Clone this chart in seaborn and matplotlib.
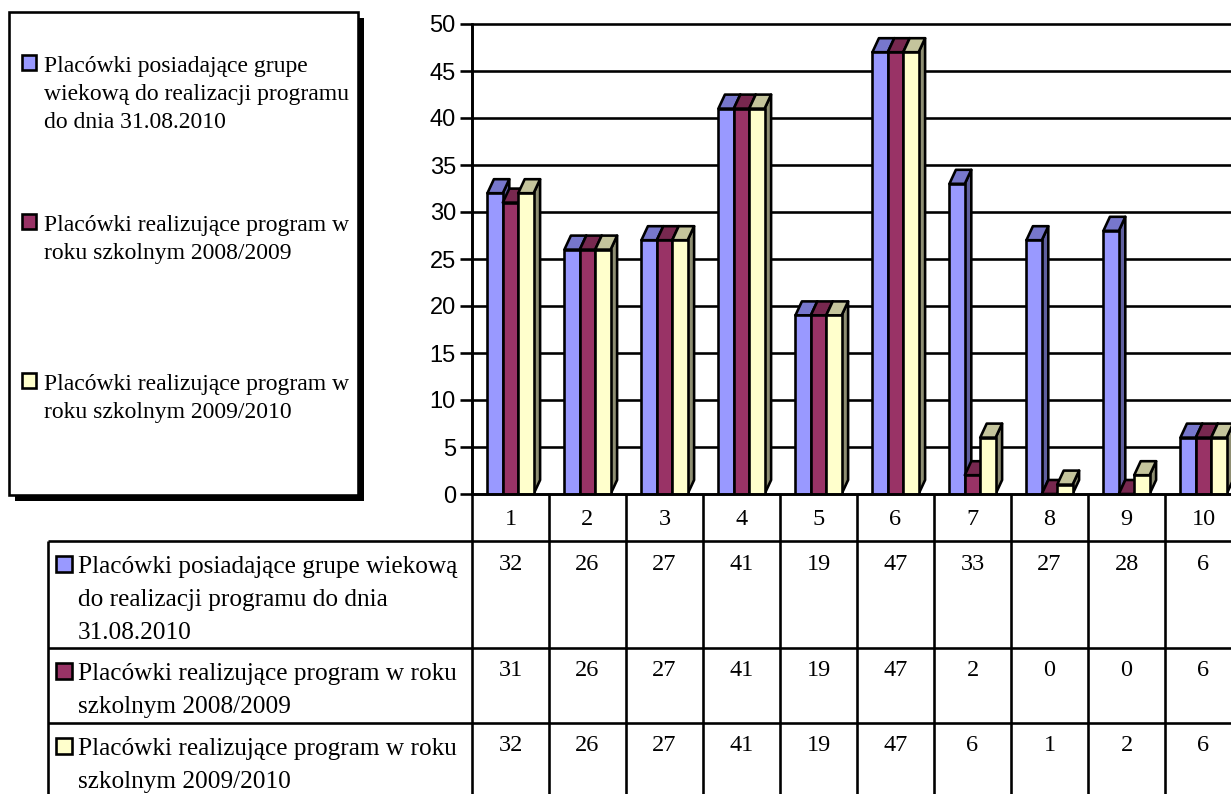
import matplotlib
matplotlib.use('Agg')
import matplotlib.pyplot as plt
from matplotlib.patches import Rectangle
import pandas as pd
import seaborn as sns

# ------------ data ------------
categories = ['1', '2', '3', '4', '5', '6', '7', '8', '9', '10']
series_1 = [32, 26, 27, 41, 19, 47, 33, 27, 28, 6]
series_2 = [31, 26, 27, 41, 19, 47, 2, 0, 0, 6]
series_3 = [32, 26, 27, 41, 19, 47, 6, 1, 2, 6]
series_names = ['s1', 's2', 's3']
y_ticks = list(range(0, 55, 5))

legend_lines = [
    ['Placówki posiadające grupe', 'wiekową do realizacji programu', 'do dnia 31.08.2010'],
    ['Placówki realizujące program w', 'roku szkolnym 2008/2009'],
    ['Placówki realizujące program w', 'roku szkolnym 2009/2010'],
]
table_lines = [
    ['Placówki posiadające grupe wiekową', 'do realizacji programu do dnia', '31.08.2010'],
    ['Placówki realizujące program w roku', 'szkolnym 2008/2009'],
    ['Placówki realizujące program w roku', 'szkolnym 2009/2010'],
]

front_colors = ['#9999FF', '#993366', '#FFFFCC']
top_colors = ['#7777CC', '#77284F', '#C4C49C']
side_colors = ['#5F5F9F', '#5F2040', '#8E8E72']

W, H = 1231, 794
PX = 72 / 100  # one pixel in points
LW = 2.6 * PX
SERIF = 'Liberation Serif'

sns.set_style('white')
fig = plt.figure(figsize=(W / 100, H / 100), dpi=100, facecolor='white')

# plot area runs past the right edge of the picture, like in the original
left, right, top, bottom = 472, 1242, 24, 494
ax = fig.add_axes([left / W, 1 - bottom / H, (right - left) / W, (bottom - top) / H])

df = pd.DataFrame({
    'cat': categories * 3,
    'value': series_1 + series_2 + series_3,
    'series': [n for n in series_names for _ in categories],
})
sns.barplot(data=df, x='cat', y='value', hue='series', hue_order=series_names,
            palette=front_colors, width=0.6, gap=0, dodge=True, saturation=1,
            edgecolor='black', linewidth=LW, legend=False, ax=ax)

ax.set_xlim(-0.5, 9.5)
ax.set_ylim(0, 50)
ax.set_yticks(y_ticks)
ax.set_xticks([])
ax.set_xlabel('')
ax.set_ylabel('')
ax.set_axisbelow(True)
ax.grid(axis='y', color='black', linewidth=LW, zorder=1, clip_on=False)
ax.tick_params(axis='y', length=12 * PX, width=LW, color='black', left=True, pad=3)
for lab in ax.get_yticklabels():
    lab.set_fontfamily('Liberation Sans')
    lab.set_fontsize(17)
    lab.set_color('black')
for name, sp in ax.spines.items():
    sp.set_visible(name == 'left')
sp = ax.spines['left']
sp.set_linewidth(LW)
sp.set_color('black')

# fake 3D: top and side faces built from the bars seaborn made
dx = 6.5 / 77
dy = 14 / 9.4
for i, cont in enumerate(ax.containers):
    for bar in cont:
        x0, w, h = bar.get_x(), bar.get_width(), bar.get_height()
        x1 = x0 + w
        z = 3 + i
        ax.fill([x1, x1 + dx, x1 + dx, x1], [0, dy, h + dy, h], fc=side_colors[i],
                ec='black', lw=LW, zorder=z, joinstyle='round', clip_on=False)
        ax.fill([x0, x0 + dx, x1 + dx, x1], [h, h + dy, h + dy, h], fc=top_colors[i],
                ec='black', lw=LW, zorder=z, joinstyle='round', clip_on=False)
        bar.set_zorder(z + 0.5)

# overlay in picture pixels for legend box and data table
ov = fig.add_axes([0, 0, 1, 1], facecolor='none')
ov.set_xlim(0, W)
ov.set_ylim(H, 0)
ov.axis('off')

# legend box
ov.add_patch(Rectangle((15, 18), 349, 483, fc='black', ec='none'))
ov.add_patch(Rectangle((9, 12), 349, 483, fc='white', ec='black', lw=LW))
legend_baselines = [72, 231, 390]
for i, lines in enumerate(legend_lines):
    base = legend_baselines[i]
    ov.add_patch(Rectangle((22, base - 17), 14, 15, fc=front_colors[i], ec='black', lw=LW))
    for j, line in enumerate(lines):
        ov.text(44, base + j * 28.2, line, family=SERIF, fontsize=17, va='baseline', color='black')

# table grid
step = (right - left) / len(categories)
row_lines = [541, 648, 723]
ov.plot([left, left], [top, H], color='black', lw=LW, solid_capstyle='butt')
ov.plot([48, 48], [row_lines[0], H], color='black', lw=LW, solid_capstyle='butt')
for k in range(1, len(categories) + 1):
    ov.plot([left + k * step] * 2, [bottom, H], color='black', lw=LW, solid_capstyle='butt')
ov.plot([left, W], [bottom, bottom], color='black', lw=LW, solid_capstyle='butt')
for y in row_lines:
    ov.plot([48, W], [y, y], color='black', lw=LW, solid_capstyle='butt')

# table text
for k, cat in enumerate(categories):
    cx = left + (k + 0.5) * step
    ov.text(cx, 525, cat, family=SERIF, fontsize=17.5, ha='center', va='baseline', color='black')
    for vals, base in zip([series_1, series_2, series_3], [570, 676, 751]):
        ov.text(cx, base, str(vals[k]), family=SERIF, fontsize=17.5, ha='center', va='baseline', color='black')

table_baselines = [573, 680, 755]
for i, lines in enumerate(table_lines):
    base = table_baselines[i]
    ov.add_patch(Rectangle((56, base - 17), 16, 16, fc=front_colors[i], ec='black', lw=LW))
    for j, line in enumerate(lines):
        ov.text(78, base + j * 32.8, line, family=SERIF, fontsize=18.2, va='baseline', color='black')

fig.savefig('out.png', dpi=100)
